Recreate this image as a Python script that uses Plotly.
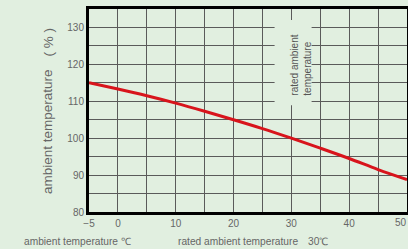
import plotly.graph_objects as go

temps = [-5, 0, 5, 10, 15, 20, 25, 30, 35, 40, 45, 50]
ratio = [115, 113.3, 111.5, 109.5, 107.3, 105, 102.6, 100, 97.3, 94.5, 91.5, 88.8]
x_ticks = [-5, 0, 10, 20, 30, 40]
x_ticklabels = ["−5", "0", "10", "20", "30", "40"]
x_last_tick = 50
y_ticks = [80, 90, 100, 110, 120, 130]

BG = "#e1efe0"
GRID = "#5a5a5a"
TXT = "#666666"

fig = go.Figure()
fig.add_trace(go.Scatter(x=temps, y=ratio, mode="lines", line=dict(color="#d8141c", width=3, shape="spline"),
                         hoverinfo="skip"))

fig.update_layout(
    width=408, height=249,
    margin=dict(l=89, r=1, t=9, b=37),
    paper_bgcolor=BG, plot_bgcolor=BG,
    showlegend=False,
    font=dict(family="Liberation Sans, Arial, sans-serif", color=TXT, size=10),
)
fig.update_xaxes(range=[-5, 50], tickvals=x_ticks, ticktext=x_ticklabels,
                 showgrid=True, gridcolor=GRID, gridwidth=1,
                 minor=dict(dtick=5, tick0=0, showgrid=True, gridcolor=GRID, gridwidth=1),
                 showline=True, linecolor="black", linewidth=3, mirror=True,
                 ticks="", zeroline=False, tickfont=dict(size=10, color=TXT), automargin=False)
fig.update_yaxes(range=[80, 135], tickvals=y_ticks,
                 showgrid=True, gridcolor=GRID, gridwidth=1,
                 minor=dict(dtick=5, tick0=0, showgrid=True, gridcolor=GRID, gridwidth=1),
                 showline=True, linecolor="black", linewidth=3, mirror=True,
                 ticks="", zeroline=False, tickfont=dict(size=10, color=TXT), automargin=False)

# last x tick label at the right edge
fig.add_annotation(x=x_last_tick, y=-0.054, xref="x", yref="paper", text=str(x_last_tick),
                   showarrow=False, xanchor="right", yanchor="middle", xshift=2,
                   font=dict(size=10, color=TXT))

# gap in grid for label
fig.add_shape(type="rect", xref="x", yref="y", x0=27.1, x1=33.5, y0=108.9, y1=132,
              fillcolor=BG, line=dict(width=0), layer="above")
fig.add_annotation(x=31.7, y=119.7, xref="x", yref="y", text="rated ambient<br>temperature",
                   textangle=-90, showarrow=False, xanchor="center", yanchor="middle", align="left",
                   font=dict(size=10, color="#555555"))

fig.add_annotation(x=-0.132, y=0.394, xref="paper", yref="paper", text="ambient temperature",
                   textangle=-90, showarrow=False, xanchor="center", yanchor="middle",
                   font=dict(size=13.5, color=TXT))
fig.add_annotation(x=-0.128, y=0.837, xref="paper", yref="paper", text="( % )",
                   textangle=-90, showarrow=False, xanchor="center", yanchor="middle",
                   font=dict(size=13.5, color=TXT))
fig.add_annotation(x=-0.2105, y=-0.143, xref="paper", yref="paper", xanchor="left", yanchor="middle",
                   text="ambient temperature ℃", showarrow=False, font=dict(size=10.2, color=TXT))
fig.add_annotation(x=0.273, y=-0.143, xref="paper", yref="paper", xanchor="left", yanchor="middle",
                   text="rated ambient temperature　30℃", showarrow=False, font=dict(size=10.2, color=TXT))

fig.write_html("out.html", config={"displayModeBar": False},
               post_script="document.body.style.margin='0';document.body.style.overflow='hidden';document.body.style.background='" + BG + "';")
